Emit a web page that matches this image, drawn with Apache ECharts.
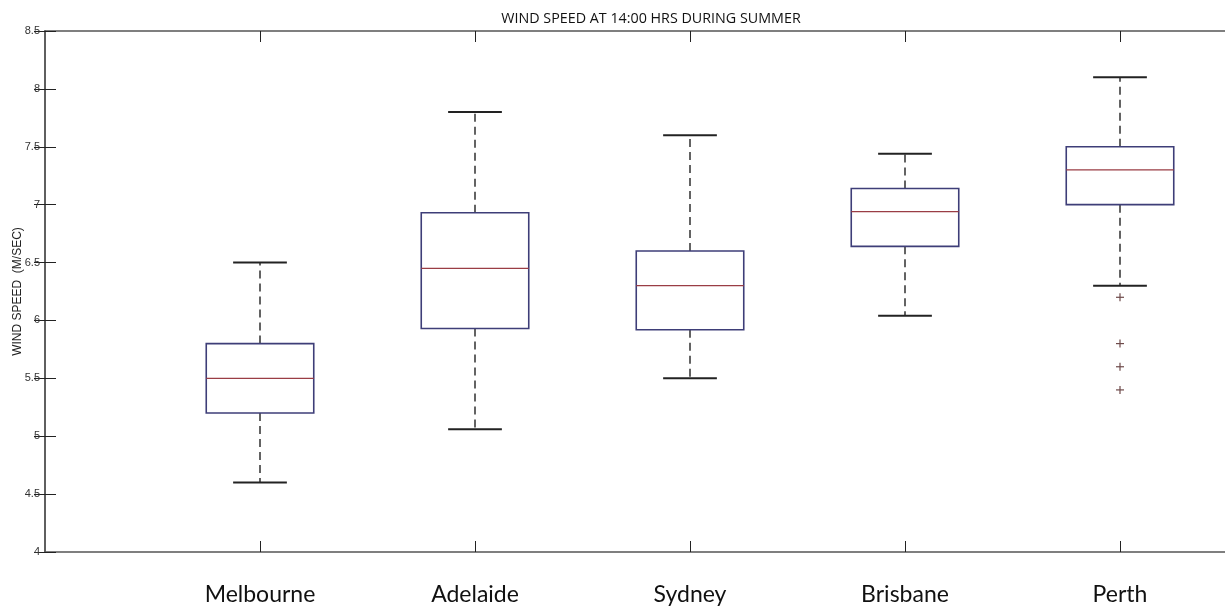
<!DOCTYPE html>
<html>
<head>
<meta charset="utf-8">
<title>Wind speed at 14:00 hrs during summer</title>
<script src="https://cdn.jsdelivr.net/npm/echarts@6/dist/echarts.min.js"></script>
<style>
  html, body { margin: 0; padding: 0; background: #ffffff; }
  #chart { width: 1225px; height: 610px; }
</style>
</head>
<body>
<div id="chart"></div>
<script>
// Cities, one box each
const cities = ['Melbourne', 'Adelaide', 'Sydney', 'Brisbane', 'Perth'];
// Five-number summaries (m/s)
const whiskerLow  = [4.60, 5.06, 5.50, 6.04, 6.30];
const quartile1   = [5.20, 5.93, 5.92, 6.64, 7.00];
const medians     = [5.50, 6.45, 6.30, 6.94, 7.30];
const quartile3   = [5.80, 6.93, 6.60, 7.14, 7.50];
const whiskerHigh = [6.50, 7.80, 7.60, 7.44, 8.10];
// Outlying observations: [city index, value]
const outliers = [[4, 6.2], [4, 5.8], [4, 5.6], [4, 5.4]];
// Y tick values
const yTicks = [4, 4.5, 5, 5.5, 6, 6.5, 7, 7.5, 8, 8.5];

const positions = cities.map((_, i) => i + 1);
const boxData = cities.map((_, i) => [
  positions[i], whiskerLow[i], quartile1[i], medians[i], quartile3[i], whiskerHigh[i]
]);
const outlierData = outliers.map(o => [positions[o[0]], o[1]]);

const BOX_W = 0.5;   // box width in x units
const CAP_W = 0.25;  // whisker cap width in x units

function renderBox(params, api) {
  const x = api.value(0);
  const pLow = api.coord([x, api.value(1)]);
  const pQ1 = api.coord([x, api.value(2)]);
  const pMed = api.coord([x, api.value(3)]);
  const pQ3 = api.coord([x, api.value(4)]);
  const pHigh = api.coord([x, api.value(5)]);
  const bw = api.size([BOX_W, 0])[0];
  const cw = api.size([CAP_W, 0])[0];
  const cx = pMed[0];
  const dash = { stroke: '#222', lineWidth: 1.4, lineDash: [8, 5] };
  const cap = { stroke: '#222', lineWidth: 2 };
  return {
    type: 'group',
    children: [
      { type: 'line', shape: { x1: cx, y1: pQ3[1], x2: cx, y2: pHigh[1] }, style: dash },
      { type: 'line', shape: { x1: cx, y1: pQ1[1], x2: cx, y2: pLow[1] }, style: dash },
      { type: 'line', shape: { x1: cx - cw / 2, y1: pHigh[1], x2: cx + cw / 2, y2: pHigh[1] }, style: cap },
      { type: 'line', shape: { x1: cx - cw / 2, y1: pLow[1], x2: cx + cw / 2, y2: pLow[1] }, style: cap },
      { type: 'rect', shape: { x: cx - bw / 2, y: pQ3[1], width: bw, height: pQ1[1] - pQ3[1] },
        style: { fill: 'none', stroke: '#3e3e78', lineWidth: 1.6 } },
      { type: 'line', shape: { x1: cx - bw / 2, y1: pMed[1], x2: cx + bw / 2, y2: pMed[1] },
        style: { stroke: '#9a3d45', lineWidth: 1.3 } }
    ]
  };
}

function renderPlus(params, api) {
  const p = api.coord([api.value(0), api.value(1)]);
  const s = 4;
  const st = { stroke: '#6e4a4a', lineWidth: 1.2 };
  return {
    type: 'group',
    children: [
      { type: 'line', shape: { x1: p[0] - s, y1: p[1], x2: p[0] + s, y2: p[1] }, style: st },
      { type: 'line', shape: { x1: p[0], y1: p[1] - s, x2: p[0], y2: p[1] + s }, style: st }
    ]
  };
}

const chart = echarts.init(document.getElementById('chart'), null, { renderer: 'canvas' });

function frameLine() {
  return { show: true, lineStyle: { color: '#555', width: 1.5 } };
}
function innerTick(extra) {
  return Object.assign({ show: true, inside: true, length: 11,
    lineStyle: { color: '#222', width: 1 } }, extra || {});
}

chart.setOption({
  animation: false,
  backgroundColor: '#ffffff',
  title: {
    text: 'WIND SPEED AT 14:00 HRS DURING SUMMER',
    left: 646, top: 7, textAlign: 'center',
    textStyle: { fontFamily: 'Open Sans', fontSize: 14.3, fontWeight: 'normal', color: '#111' }
  },
  grid: { left: 45, top: 31, width: 1182.5, height: 521, containLabel: false, outerBoundsMode: 'none' },
  xAxis: [
    {
      type: 'value', position: 'bottom', min: 0, max: 5.5,
      axisLine: frameLine(),
      axisTick: innerTick({ customValues: positions }),
      axisLabel: {
        customValues: positions,
        formatter: v => cities[Math.round(v) - 1] || '',
        margin: 31, fontFamily: 'Lato', fontSize: 23, color: '#111'
      },
      splitLine: { show: false }
    },
    {
      type: 'value', position: 'top', min: 0, max: 5.5,
      axisLine: frameLine(),
      axisTick: innerTick({ customValues: positions }),
      axisLabel: { show: false },
      splitLine: { show: false }
    }
  ],
  yAxis: [
    {
      type: 'value', position: 'left', min: 4, max: 8.5, interval: 0.5,
      name: 'WIND SPEED  (M/SEC)', nameLocation: 'middle', nameGap: 21,
      nameMoveOverlap: false,
      nameTextStyle: { fontFamily: 'Liberation Sans', fontSize: 12, color: '#222' },
      axisLine: frameLine(),
      axisTick: innerTick(),
      axisLabel: { margin: 5, fontFamily: 'Liberation Sans', fontSize: 11, color: '#333',
        customValues: yTicks },
      splitLine: { show: false }
    },
    {
      type: 'value', position: 'right', min: 4, max: 8.5, interval: 0.5,
      axisLine: frameLine(),
      axisTick: innerTick(),
      axisLabel: { show: false },
      splitLine: { show: false }
    }
  ],
  series: [
    {
      type: 'custom', name: 'Wind speed', xAxisIndex: 0, yAxisIndex: 0,
      renderItem: renderBox,
      encode: { x: 0, y: [1, 2, 3, 4, 5] },
      data: boxData, clip: false
    },
    {
      type: 'custom', name: 'Outliers', xAxisIndex: 0, yAxisIndex: 0,
      renderItem: renderPlus,
      encode: { x: 0, y: 1 },
      data: outlierData
    }
  ]
});
</script>
</body>
</html>
